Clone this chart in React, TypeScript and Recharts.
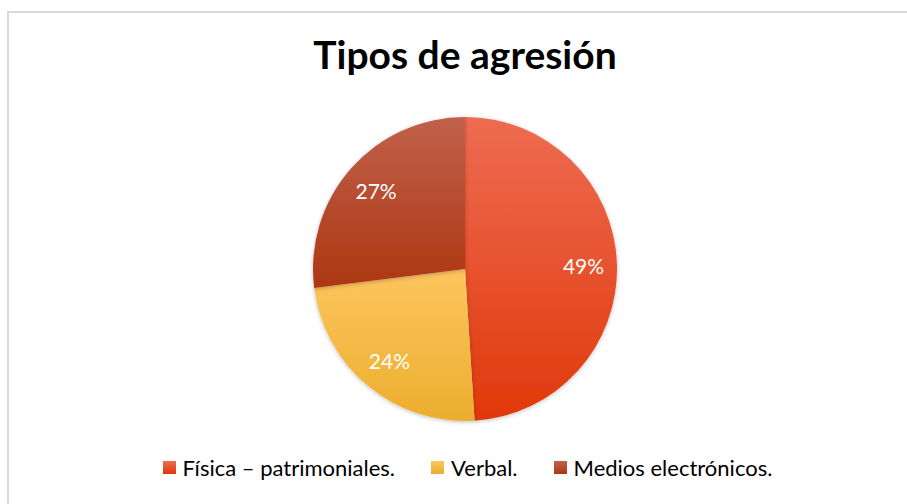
import { PieChart, Pie, Cell, Legend } from "recharts"

const categories = ["Física – patrimoniales.", "Verbal.", "Medios electrónicos."]
const values = [49, 24, 27]
const gradients = [
  ["#EE6C52", "#E0380A"],
  ["#FDC55F", "#ECAE2E"],
  ["#C1614B", "#AC3713"],
]

const data = categories.map((name, i) => ({ name, value: values[i] }))

const RAD = Math.PI / 180
const font = "Lato, 'Open Sans', sans-serif"

function renderLabel(props: any) {
  const { cx, cy, midAngle, outerRadius, percent } = props
  const r = outerRadius * 0.78
  const x = cx + r * Math.cos(-midAngle * RAD)
  const y = cy + r * Math.sin(-midAngle * RAD)
  return (
    <text x={x} y={y} fill="#ffffff" textAnchor="middle" dominantBaseline="central" fontSize={21} fontFamily={font}>
      {`${Math.round(percent * 100)}%`}
    </text>
  )
}

function renderLegend() {
  return (
    <div style={{ display: "flex", justifyContent: "center", gap: 36, fontFamily: font, fontSize: 22, color: "#000" }}>
      {categories.map((c, i) => (
        <div key={c} style={{ display: "flex", alignItems: "center" }}>
          <span
            style={{
              width: 13,
              height: 13,
              marginRight: 7,
              background: `linear-gradient(${gradients[i][0]}, ${gradients[i][1]})`,
            }}
          />
          {c}
        </div>
      ))}
    </div>
  )
}

export default function App() {
  return (
    <div style={{ position: "absolute", left: 0, top: 0, width: 907, height: 504, background: "#fff" }}>
      <div
        style={{
          position: "absolute",
          left: 7,
          top: 11,
          right: 0,
          bottom: 0,
          borderLeft: "2px solid #d9d9d9",
          borderTop: "2px solid #d9d9d9",
        }}
      />
      <div
        style={{
          position: "absolute",
          left: 0,
          width: 930,
          top: 31,
          textAlign: "center",
          fontFamily: font,
          fontWeight: 700,
          fontSize: 39,
          color: "#000",
        }}
      >
        Tipos de agresión
      </div>
      <div style={{ position: "absolute", left: 0, top: 0 }}>
        <PieChart width={907} height={504} margin={{ top: 0, right: 0, bottom: 0, left: 0 }}>
          <defs>
            {gradients.map((g, i) => (
              <linearGradient key={i} id={`grad${i}`} x1="0" y1="0" x2="0" y2="1">
                <stop offset="0%" stopColor={g[0]} />
                <stop offset="100%" stopColor={g[1]} />
              </linearGradient>
            ))}
            <filter id="shadow" x="-10%" y="-10%" width="120%" height="120%">
              <feDropShadow dx="0" dy="1" stdDeviation="2" floodColor="#000" floodOpacity="0.25" />
            </filter>
          </defs>
          <Pie
            data={data}
            dataKey="value"
            nameKey="name"
            cx={465}
            cy={269}
            outerRadius={152}
            startAngle={90}
            endAngle={-270}
            stroke="none"
            label={renderLabel}
            labelLine={false}
            isAnimationActive={false}
            style={{ filter: "url(#shadow)" }}
          >
            {data.map((d, i) => (
              <Cell key={d.name} fill={`url(#grad${i})`} />
            ))}
          </Pie>
          <Legend
            content={renderLegend}
            verticalAlign="bottom"
            wrapperStyle={{ left: 14, width: 907, top: 454 }}
          />
        </PieChart>
      </div>
    </div>
  )
}
